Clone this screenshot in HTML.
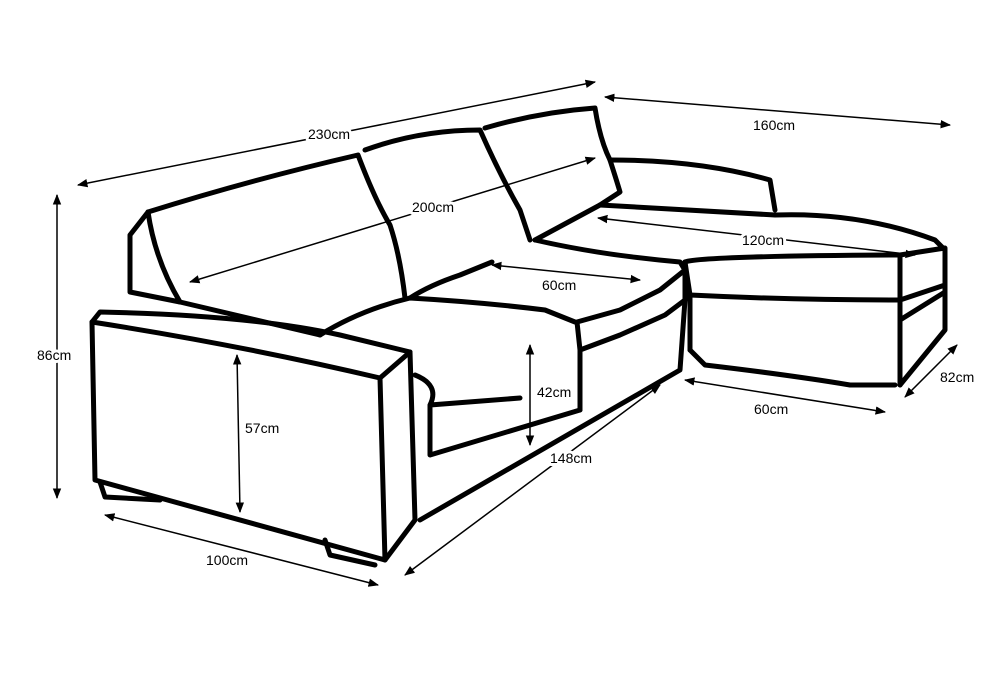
<!DOCTYPE html>
<html><head><meta charset="utf-8"><style>
html,body{margin:0;padding:0;background:#fff;}
svg{display:block;}
text{font-family:"Liberation Sans",sans-serif;font-size:14px;fill:#000;stroke:#fff;stroke-width:6px;paint-order:stroke;stroke-linejoin:round;}
</style></head><body>
<svg width="1000" height="680" viewBox="0 0 1000 680" xmlns="http://www.w3.org/2000/svg">
<defs>
<marker id="a" viewBox="0 0 10 10" refX="9" refY="5" markerWidth="7" markerHeight="7" orient="auto-start-reverse"><path d="M0,1 L10,5 L0,9 Z" fill="#000"/></marker>
</defs>
<g stroke="#000" stroke-width="5" fill="none" stroke-linecap="round" stroke-linejoin="round">
<path d="M92,322 L100,312 Q250,315 340,335 L410,352 L380,378 Q240,345 92,322 Z"/>
<path d="M92,322 L95,480 L385,560 L380,378"/>
<path d="M410,352 L415,520 L385,560"/>
<path d="M100,482 L105,497 L160,500"/>
<path d="M325,540 L330,555 L375,565"/>
<path d="M130,235 L148,212 M130,235 L130,292 L180,302"/>
<path d="M148,212 Q250,180 358,155 Q375,200 390,225 Q400,255 405,298"/>
<path d="M148,212 Q155,260 180,302"/>
<path d="M365,150 Q420,130 480,130 Q500,175 520,210 L530,240"/>
<path d="M485,128 Q540,112 595,108 Q600,140 610,160 Q618,185 620,192 L600,205 L535,240"/>
<path d="M180,302 L320,335"/>
<path d="M320,335 Q360,310 410,298 Q480,302 545,310 L575,322"/>
<path d="M410,298 Q430,285 460,275 L492,262"/>
<path d="M535,240 Q600,255 680,262 L685,270 L660,290 L620,310 L577,322 L580,350 L620,335 L665,315 L685,300 L685,270"/>
<path d="M415,375 Q440,385 430,405 L520,398 M430,405 L430,455 L580,410 M420,520 L680,370 L685,300"/>
<path d="M580,350 L580,410"/>
<path d="M610,160 Q700,160 770,180 L775,210"/>
<path d="M600,205 Q690,210 775,215 Q860,212 935,240 L945,250"/>
<path d="M685,262 Q700,256 900,255 L945,248 L945,330 L900,385"/>
<path d="M685,262 L690,295 Q790,300 900,300 L945,285"/>
<path d="M900,255 L900,385 M900,320 L945,292"/>
<path d="M690,350 L705,365 Q790,375 850,385 L895,385"/>
<path d="M690,295 L690,350"/>
</g>
<g stroke="#000" stroke-width="1.5" marker-start="url(#a)" marker-end="url(#a)" fill="none">
<line x1="78" y1="185" x2="595" y2="82"/>
<line x1="605" y1="97" x2="950" y2="125"/>
<line x1="190" y1="282" x2="595" y2="158"/>
<line x1="598" y1="218" x2="915" y2="255"/>
<line x1="492" y1="265" x2="640" y2="280"/>
<line x1="57" y1="195" x2="57" y2="498"/>
<line x1="237" y1="355" x2="240" y2="512"/>
<line x1="530" y1="345" x2="530" y2="445"/>
<line x1="405" y1="575" x2="660" y2="385"/>
<line x1="105" y1="515" x2="378" y2="585"/>
<line x1="685" y1="380" x2="885" y2="412"/>
<line x1="905" y1="397" x2="957" y2="345"/>
</g>
<text x="308" y="139">230cm</text>
<text x="753" y="130">160cm</text>
<text x="412" y="212">200cm</text>
<text x="742" y="245">120cm</text>
<text x="542" y="290">60cm</text>
<text x="37" y="360">86cm</text>
<text x="245" y="433">57cm</text>
<text x="537" y="397">42cm</text>
<text x="550" y="463">148cm</text>
<text x="206" y="565">100cm</text>
<text x="754" y="414">60cm</text>
<text x="940" y="382">82cm</text>
</svg>
</body></html>
